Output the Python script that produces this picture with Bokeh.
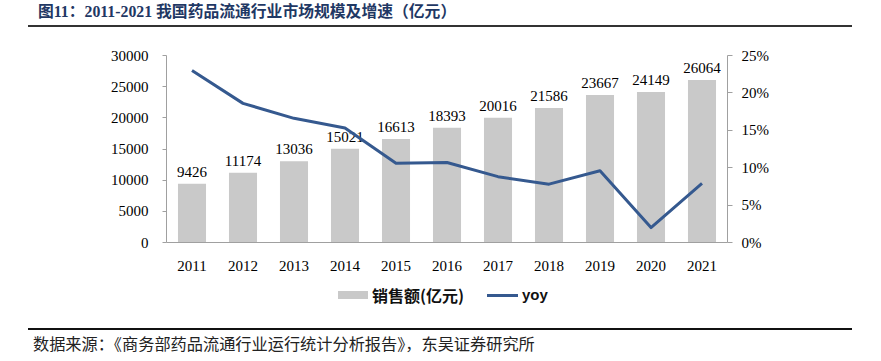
from bokeh.plotting import figure
from bokeh.layouts import column
from bokeh.models import (Range1d, FactorRange, LinearAxis, Div,
                          FixedTicker, PrintfTickFormatter, ColumnDataSource)
from bokeh.embed import file_html
from bokeh.resources import INLINE

years = ["2011", "2012", "2013", "2014", "2015", "2016", "2017", "2018", "2019", "2020", "2021"]
sales = [9426, 11174, 13036, 15021, 16613, 18393, 20016, 21586, 23667, 24149, 26064]
yoy = [23.0, 18.6, 16.6, 15.3, 10.6, 10.7, 8.8, 7.8, 9.6, 2.0, 7.9]
left_ticks = [0, 5000, 10000, 15000, 20000, 25000, 30000]
right_ticks = [0, 5, 10, 15, 20, 25]
title_text = "图11：2011-2021 我国药品流通行业市场规模及增速（亿元）"
source_text = "数据来源：《商务部药品流通行业运行统计分析报告》，东吴证券研究所"
bar_label = "销售额(亿元)"
line_label = "yoy"

BAR_COLOR = "#c9c9c9"
LINE_COLOR = "#35598f"
AXIS_COLOR = "#a0a0a0"
SERIF = "Liberation Serif"
W = 881

# ---------- header ----------
head = Div(width=W, height=30, margin=0, text=(
    '<div style="position:relative;width:881px;height:30px;">'
    '<div style="position:absolute;left:38px;top:3px;white-space:nowrap;'
    "font-family:'Liberation Serif','Noto Sans CJK SC';font-weight:bold;"
    'font-size:15.8px;line-height:18px;color:#1f3864;">' + title_text + '</div>'
    '<div style="position:absolute;left:28px;top:24.5px;width:824px;height:2px;'
    'background:#333333;"></div></div>'))

# ---------- main chart ----------
src = ColumnDataSource(dict(year=years, sales=sales, yoy=yoy,
                            label=[str(v) for v in sales]))

p = figure(x_range=FactorRange(*years), y_range=Range1d(0, 30000),
           width=W, height=250, toolbar_location=None, output_backend="svg",
           min_border_left=166, min_border_right=154, min_border_top=25,
           min_border_bottom=38, margin=0)
p.outline_line_color = None
p.background_fill_color = "white"
p.border_fill_color = "white"
p.xgrid.visible = False
p.ygrid.visible = False
p.x_range.range_padding = 0
p.extra_y_ranges = {"pct": Range1d(0, 25)}

ya = p.yaxis[0]
ya.ticker = FixedTicker(ticks=left_ticks)
ya.axis_line_color = AXIS_COLOR
ya.major_tick_line_color = AXIS_COLOR
ya.major_tick_out = 4
ya.major_tick_in = 0
ya.minor_tick_line_color = None
ya.major_label_text_font = SERIF
ya.major_label_text_font_size = "15px"
ya.major_label_text_color = "black"
ya.major_label_standoff = 14

ra = LinearAxis(y_range_name="pct", ticker=FixedTicker(ticks=right_ticks),
                formatter=PrintfTickFormatter(format="%d%%"))
ra.axis_line_color = AXIS_COLOR
ra.major_tick_line_color = AXIS_COLOR
ra.major_tick_out = 5
ra.major_tick_in = 0
ra.minor_tick_line_color = None
ra.major_label_text_font = SERIF
ra.major_label_text_font_size = "15px"
ra.major_label_text_color = "black"
ra.major_label_standoff = 9
p.add_layout(ra, "right")

xa = p.xaxis[0]
xa.axis_line_color = AXIS_COLOR
xa.major_tick_line_color = None
xa.minor_tick_line_color = None
xa.major_label_text_font = SERIF
xa.major_label_text_font_size = "15px"
xa.major_label_text_color = "black"
xa.major_label_standoff = 12

bars = p.vbar(x="year", top="sales", width=0.55, source=src,
              fill_color=BAR_COLOR, line_color=None)
p.text(x="year", y="sales", text="label", source=src, text_align="center",
       text_baseline="bottom", y_offset=-7, text_font={"value": SERIF},
       text_font_size="15px", text_color="black")
line = p.line(x="year", y="yoy", source=src, y_range_name="pct",
              line_color=LINE_COLOR, line_width=3, line_join="round")

# ---------- legend + footer ----------
foot = Div(width=W, height=81, margin=0, text=(
    '<div style="position:relative;width:881px;height:81px;">'
    # legend: bar swatch + label
    '<div style="position:absolute;left:338px;top:11px;width:30px;height:8px;'
    'background:' + BAR_COLOR + ';"></div>'
    '<div style="position:absolute;left:372px;top:5px;white-space:nowrap;'
    "font-family:'Noto Sans CJK SC';font-weight:bold;font-size:16px;"
    'line-height:20px;color:#111111;">' + bar_label + '</div>'
    # legend: line swatch + label
    '<div style="position:absolute;left:487px;top:13.5px;width:31px;height:3px;'
    'background:' + LINE_COLOR + ';"></div>'
    '<div style="position:absolute;left:522px;top:5px;white-space:nowrap;'
    "font-family:'Liberation Sans';font-weight:bold;font-size:15px;"
    'line-height:20px;color:#111111;">' + line_label + '</div>'
    # rule + source
    '<div style="position:absolute;left:28px;top:47.5px;width:824px;height:2px;'
    'background:#111111;"></div>'
    '<div style="position:absolute;left:33px;top:54px;white-space:nowrap;'
    "font-family:'Noto Sans CJK SC';font-size:16.2px;line-height:18px;"
    'color:#222222;">' + source_text + '</div></div>'))

layout = column(head, p, foot, spacing=0)
open("out.html", "w").write(file_html(layout, INLINE))
